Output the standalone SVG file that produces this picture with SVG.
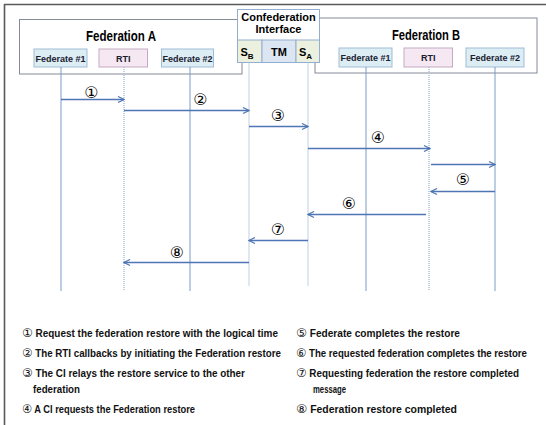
<svg xmlns="http://www.w3.org/2000/svg" width="546" height="425" viewBox="0 0 546 425">
<defs>
<marker id="ah" viewBox="0 0 8 8" refX="7" refY="4" markerWidth="8" markerHeight="8" markerUnits="userSpaceOnUse" orient="auto">
<path d="M1,1 L7,4 L1,7" fill="none" stroke="#4f76b4" stroke-width="1.2"/>
</marker>
<style>
.frame{fill:#fff;stroke:#848c98;stroke-width:1}
.fed{fill:#dcedf4;stroke:#9fbdd6;stroke-width:1}
.rti{fill:#f6e8f2;stroke:#c4abc3;stroke-width:1}
.box{font-family:"Liberation Sans",Arial,sans-serif;font-size:9px;font-weight:bold;fill:#1a2030;text-anchor:middle}
.title{font-family:"Liberation Sans",Arial,sans-serif;font-size:14px;font-weight:bold;fill:#000;text-anchor:middle}
.ci{font-family:"Liberation Sans",Arial,sans-serif;font-size:11px;font-weight:bold;fill:#000;text-anchor:middle}
.sub{font-family:"Liberation Sans",Arial,sans-serif;font-size:8px;font-weight:bold;fill:#000}
.life{stroke:#7b9bc9;stroke-width:1;fill:none}
.dot{stroke:#a9c0de;stroke-width:1.5;stroke-dasharray:1 1;fill:none}
.msg{stroke:#4f76b4;stroke-width:1.4;fill:none;marker-end:url(#ah)}
.num{font-family:"DejaVu Sans","Noto Sans CJK KR",sans-serif;font-size:16px;fill:#000;text-anchor:middle}
.leg{font-family:"Liberation Sans","Noto Sans CJK KR",sans-serif;font-size:10px;font-weight:bold;fill:#111}
.c{font-family:"DejaVu Sans",sans-serif;font-size:12px;font-weight:normal}
</style>
</defs>
<rect x="0" y="0" width="546" height="425" fill="#fff"/>
<g id="outer-frame">
<line x1="4.5" y1="4" x2="4.5" y2="425" stroke="#5a5a5a" stroke-width="1.6"/>
<line x1="4" y1="4.5" x2="546" y2="4.5" stroke="#5a5a5a" stroke-width="1.6"/>
</g>
<g id="federation-a">
<rect class="frame" x="19.5" y="19.5" width="222.5" height="54.5"/>
<text class="title" x="121" y="40.5" textLength="70" lengthAdjust="spacingAndGlyphs">Federation A</text>
</g>
<g id="federation-b">
<rect class="frame" x="315" y="18" width="222" height="55"/>
<text class="title" x="426" y="40" textLength="68" lengthAdjust="spacingAndGlyphs">Federation B</text>
</g>
<g id="a-federate1">
<rect class="fed" x="34" y="49" width="53" height="18"/>
<text class="box" x="60.5" y="61.5">Federate #1</text>
</g>
<g id="a-rti">
<rect class="rti" x="99" y="49" width="48.5" height="18"/>
<text class="box" x="123.3" y="61.5">RTI</text>
</g>
<g id="a-federate2">
<rect class="fed" x="161.5" y="49" width="52" height="18"/>
<text class="box" x="187.5" y="61.5">Federate #2</text>
</g>
<g id="b-federate1">
<rect class="fed" x="339" y="48" width="53" height="19"/>
<text class="box" x="365.5" y="61">Federate #1</text>
</g>
<g id="b-rti">
<rect class="rti" x="404" y="48" width="48.5" height="19"/>
<text class="box" x="428.3" y="61">RTI</text>
</g>
<g id="b-federate2">
<rect class="fed" x="466" y="48" width="58" height="19"/>
<text class="box" x="495" y="61">Federate #2</text>
</g>
<g id="confederation-interface">
<rect x="237.5" y="9.5" width="82" height="53" fill="#fff" stroke="#93aed0" stroke-width="1"/>
<rect x="237.5" y="40" width="24.5" height="22.5" fill="#ebf1de" stroke="#93aed0" stroke-width="1"/>
<rect x="262" y="40" width="34" height="22.5" fill="#dce6f2" stroke="#93aed0" stroke-width="1"/>
<rect x="296" y="40" width="23.5" height="22.5" fill="#ebf1de" stroke="#93aed0" stroke-width="1"/>
<text class="ci" x="278.5" y="20.5">Confederation</text>
<text class="ci" x="278.5" y="33">Interface</text>
<text class="ci" x="247" y="56" text-anchor="middle">S<tspan class="sub" dy="2.5">B</tspan></text>
<text class="ci" x="279" y="56">TM</text>
<text class="ci" x="305.5" y="56">S<tspan class="sub" dy="2.5">A</tspan></text>
</g>
<g id="lifelines">
<line class="life" x1="61" y1="67" x2="61" y2="291"/>
<line class="dot" x1="124" y1="67" x2="124" y2="290"/>
<line class="life" x1="190" y1="67" x2="190" y2="291"/>
<line class="dot" x1="249" y1="62.5" x2="249" y2="286"/>
<line class="dot" x1="308" y1="62.5" x2="308" y2="286"/>
<line class="life" x1="366" y1="67" x2="366" y2="291"/>
<line class="dot" x1="429" y1="67" x2="429" y2="290"/>
<line class="life" x1="495" y1="67" x2="495" y2="291"/>
</g>
<g id="connectors">
<line class="msg" x1="61" y1="99.5" x2="124" y2="99.5"/>
<line class="msg" x1="124" y1="110.5" x2="249" y2="110.5"/>
<line class="msg" x1="249" y1="126.5" x2="308" y2="126.5"/>
<line class="msg" x1="308" y1="148.5" x2="430" y2="148.5"/>
<line class="msg" x1="431" y1="164.5" x2="495" y2="164.5"/>
<line class="msg" x1="495" y1="191.5" x2="431" y2="191.5"/>
<line class="msg" x1="426" y1="214.5" x2="308" y2="214.5"/>
<line class="msg" x1="308" y1="240.5" x2="249" y2="240.5"/>
<line class="msg" x1="249" y1="262.5" x2="124" y2="262.5"/>
<text class="num" x="91.5" y="97.5">①</text>
<text class="num" x="200.5" y="104.5">②</text>
<text class="num" x="278" y="121">③</text>
<text class="num" x="378" y="142.5">④</text>
<text class="num" x="463" y="185">⑤</text>
<text class="num" x="349" y="209">⑥</text>
<text class="num" x="278" y="235">⑦</text>
<text class="num" x="177" y="257.5">⑧</text>
</g>
<g id="legend">
<text class="leg" x="22" y="337" textLength="256" lengthAdjust="spacingAndGlyphs"><tspan class="c">①</tspan> Request the federation restore with the logical time</text>
<text class="leg" x="22" y="357" textLength="259" lengthAdjust="spacingAndGlyphs"><tspan class="c">②</tspan> The RTI callbacks by initiating the Federation restore</text>
<text class="leg" x="22" y="377" textLength="223" lengthAdjust="spacingAndGlyphs"><tspan class="c">③</tspan> The CI relays the restore service to the other</text>
<text class="leg" x="33" y="393" textLength="47" lengthAdjust="spacingAndGlyphs">federation</text>
<text class="leg" x="22" y="413" textLength="173" lengthAdjust="spacingAndGlyphs"><tspan class="c">④</tspan> A CI requests the Federation restore</text>
<text class="leg" x="296" y="337" textLength="164" lengthAdjust="spacingAndGlyphs"><tspan class="c">⑤</tspan> Federate completes the restore</text>
<text class="leg" x="296" y="357" textLength="231" lengthAdjust="spacingAndGlyphs"><tspan class="c">⑥</tspan> The requested federation completes the restore</text>
<text class="leg" x="296" y="377" textLength="223" lengthAdjust="spacingAndGlyphs"><tspan class="c">⑦</tspan> Requesting federation the restore completed</text>
<text class="leg" x="313" y="393" textLength="33" lengthAdjust="spacingAndGlyphs">message</text>
<text class="leg" x="296" y="413" textLength="161" lengthAdjust="spacingAndGlyphs"><tspan class="c">⑧</tspan> Federation restore completed</text>
</g>
</svg>
